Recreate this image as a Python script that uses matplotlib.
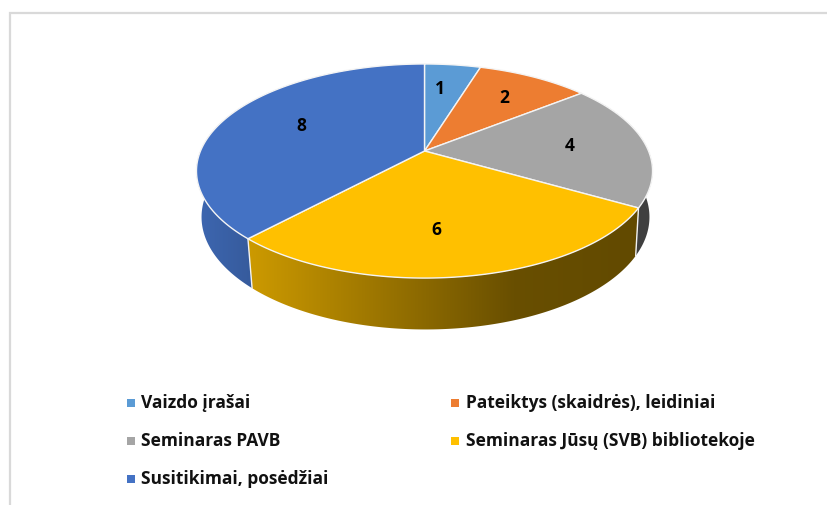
import numpy as np
import matplotlib
matplotlib.use('Agg')
import matplotlib.pyplot as plt
from matplotlib.patches import Polygon, Rectangle

#the chart data
categories = ['Vaizdo įrašai', 'Pateiktys (skaidrės), leidiniai', 'Seminaras PAVB',
              'Seminaras Jūsų (SVB) bibliotekoje', 'Susitikimai, posėdžiai']
values = [1, 2, 4, 6, 8]
colors = ['#5B9BD5', '#ED7D31', '#A5A5A5', '#FFC000', '#4472C4']

#layout, all in pixels of the 827x505 picture
top_cx, top_cy, top_a, top_b = 424.5, 151, 224, 103.3
bot_cx, bot_cy, bot_a, bot_b = 425.5, 196, 220, 108.5
persp = 0.187
label_dx = [-5, 2, -5, -14, 12]
legend_x = [126.5, 451, 126.5, 451, 126.5]
legend_y = [403, 403, 441, 441, 479]


def project(theta, r, cx, cy, a, b):
    #turn an angle (clockwise from 12 o'clock) on the disc into a pixel, with some perspective
    u = r*np.sin(theta)
    v = r*np.cos(theta)
    w = 1 + persp*v
    return cx + a*u/w, cy - b*v/w


def side_shade(x):
    #the side of the pie gets darker going to the right
    return np.interp(x, [197, 250, 515, 660], [0.9, 0.8, 0.41, 0.38])


fig = plt.figure(figsize=(8.27, 5.05), dpi=100)
ax = fig.add_axes([0, 0, 1, 1])
ax.axis('off')

#grey chart frame
ax.plot([10, 10, 827], [505, 12.5, 12.5], color='#D9D9D9', lw=1.6, solid_joinstyle='miter')

edges = np.cumsum([0] + values)/sum(values)*2*np.pi

#side of the pie, a gradient image clipped to the shape of each slice
xs = np.arange(190, 665)
for i in range(len(values)):
    start = max(edges[i], np.radians(60))
    stop = min(edges[i+1], np.radians(300))
    if stop <= start:
        continue
    angles = np.linspace(start, stop, 200)
    x1, y1 = project(angles, 1, top_cx, top_cy, top_a, top_b)
    x2, y2 = project(angles[::-1], 1, bot_cx, bot_cy, bot_a, bot_b)
    base = np.array(matplotlib.colors.to_rgb(colors[i]))
    gradient = (side_shade(xs)[:, None]*base)[None, :, :]
    im = ax.imshow(gradient, extent=(xs[0], xs[-1], 340, 60), aspect='auto', zorder=2, interpolation='bilinear')
    clip = Polygon(np.column_stack([np.r_[x1, x2], np.r_[y1, y2]]), closed=True, transform=ax.transData)
    im.set_clip_path(clip)

#white lines where the slices meet on the side
for edge in edges[1:-1]:
    if np.radians(60) < edge < np.radians(300):
        x1, y1 = project(edge, 1, top_cx, top_cy, top_a, top_b)
        x2, y2 = project(edge, 1, bot_cx, bot_cy, bot_a, bot_b)
        ax.plot([x1, x2], [y1, y2], color='#F2F2F2', lw=1.0, zorder=3)

#top of the pie
for i in range(len(values)):
    angles = np.linspace(edges[i], edges[i+1], 200)
    x, y = project(angles, 1, top_cx, top_cy, top_a, top_b)
    pts = [(top_cx, top_cy)] + list(zip(x, y))
    ax.add_patch(Polygon(pts, closed=True, facecolor=colors[i], edgecolor='#F4F4F4', lw=1.0, zorder=4))

#the numbers on the slices
for i in range(len(values)):
    mid = (edges[i]+edges[i+1])/2
    x, y = project(mid, 0.68, top_cx, top_cy, top_a, top_b)
    ax.text(x+label_dx[i], y, str(values[i]), fontsize=12.5, fontweight='bold', family='Open Sans',
            ha='center', va='center', color='black', zorder=5)

#legend
for i in range(len(categories)):
    ax.add_patch(Rectangle((legend_x[i], legend_y[i]-4.5), 8, 8, facecolor=colors[i], edgecolor='none', zorder=5))
    ax.text(legend_x[i]+14.5, legend_y[i], categories[i], fontsize=12.5, fontweight='bold', family='Open Sans',
            ha='left', va='center', color='#111111', zorder=5)

ax.set_xlim(0, 827)
ax.set_ylim(505, 0)
plt.savefig('out.png', dpi=100)
